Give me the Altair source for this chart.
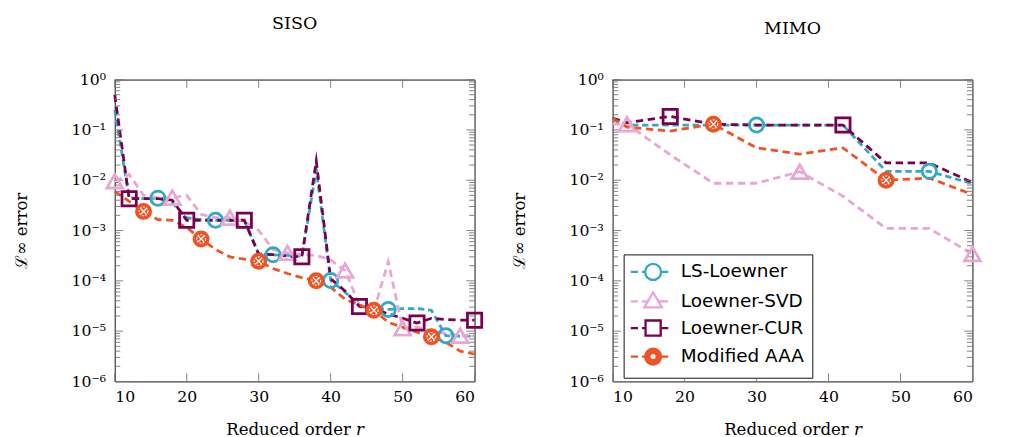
import altair as alt
import pandas as pd

SERIES = ["LS-Loewner", "Loewner-SVD", "Loewner-CUR", "Modified AAA"]
COLORS = ["#31A8C8", "#E8A7D3", "#79004F", "#F05323"]
DASHES = [[7, 4], [8, 5], [8, 5], [8, 5]]

# ---- SISO panel data ----
r_siso = [10, 12, 14, 16, 18, 20, 22, 24, 26, 28, 30, 32, 34, 36, 38, 40, 42, 44, 46, 48, 50, 52, 54, 56, 58, 60]
siso_ls = [0.25, 4.5e-3, 4.3e-3, 4.4e-3, 3.5e-3, 1.8e-3, 1.65e-3, 1.6e-3, 1.6e-3, 1.6e-3, 3.4e-4, 3.3e-4, 3.2e-4,
           3.1e-4, 1.6e-2, 1.02e-4, 6e-5, 3.2e-5, 2.8e-5, 2.7e-5, 2.8e-5, 2.8e-5, 2.6e-5, 8.1e-6, 8e-6, 8e-6]
siso_svd = [9.6e-3, 1.3e-2, 5e-3, 4.5e-3, 4.5e-3, 5e-3, 2.1e-3, 1.8e-3, 1.8e-3, 1.5e-3, 1e-3, 4.2e-4, 3.6e-4,
            3.3e-4, 3.2e-4, 2.6e-4, 1.6e-4, 3.3e-5, 2.5e-5, 2.4e-4, 1.14e-5, 1.2e-5, 1e-5, 9e-6, 8.1e-6, 8.5e-6]
siso_cur = [0.5, 4.3e-3, 4.3e-3, 4.3e-3, 4.0e-3, 1.6e-3, 1.6e-3, 1.6e-3, 1.6e-3, 1.6e-3, 3.4e-4, 3.3e-4, 3.1e-4,
            3.0e-4, 2.4e-2, 1.1e-4, 6.3e-5, 3.1e-5, 2.8e-5, 2.2e-5, 1.8e-5, 1.45e-5, 1.8e-5, 1.7e-5, 1.65e-5, 1.65e-5]
siso_aaa = [6e-3, 3.8e-3, 2.4e-3, 1.65e-3, 1.6e-3, 1.15e-3, 6.8e-4, 4.2e-4, 3e-4, 2.7e-4, 2.46e-4, 1.75e-4, 1.4e-4,
            1.15e-4, 1.0e-4, 7.5e-5, 4.3e-5, 3.3e-5, 2.6e-5, 1.5e-5, 1.2e-5, 9.5e-6, 7.7e-6, 6e-6, 4e-6, 3.5e-6]
siso_marks = {
    "LS-Loewner": [16, 24, 32, 40, 48, 56],
    "Loewner-SVD": [10, 18, 26, 34, 42, 50, 58],
    "Loewner-CUR": [12, 20, 28, 36, 44, 52, 60],
    "Modified AAA": [14, 22, 30, 38, 46, 54],
}

# ---- MIMO panel data ----
r_mimo = [10, 12, 18, 24, 30, 36, 42, 48, 54, 60]
mimo_ls = [0.16, 0.125, 0.125, 0.125, 0.125, 0.125, 0.125, 0.015, 0.015, 0.0085]
mimo_svd = [0.13, 0.13, 0.032, 0.0087, 0.0087, 0.0148, 0.0048, 0.0011, 0.0011, 0.00034]
mimo_cur = [0.17, 0.14, 0.185, 0.13, 0.125, 0.125, 0.125, 0.022, 0.022, 0.009]
mimo_aaa = [0.17, 0.113, 0.095, 0.13, 0.044, 0.033, 0.044, 0.010, 0.011, 0.0052]
mimo_marks = {
    "LS-Loewner": [30, 54],
    "Loewner-SVD": [12, 36, 60],
    "Loewner-CUR": [18, 42],
    "Modified AAA": [24, 48],
}

x_ticks = [10, 20, 30, 40, 50, 60]
y_major = [1e-6, 1e-5, 1e-4, 1e-3, 1e-2, 1e-1, 1]
y_minor = [k * 10.0 ** e for e in range(-6, 0) for k in range(2, 10)]
y_labels = ["10⁻⁶", "10⁻⁵", "10⁻⁴", "10⁻³", "10⁻²", "10⁻¹", "10⁰"]

SERIF = "DejaVu Serif"
SANS = "DejaVu Sans"
W, H = 391, 328
TICK_MAJ, TICK_MIN = 9, 6
TICK_COLOR = "#7a7a7a"


def make_df(r, vals, marks):
    rows = []
    for s, v in zip(SERIES, vals):
        for ri, vi in zip(r, v):
            rows.append({"series": s, "r": ri, "err": vi, "marker": ri in marks[s]})
    return pd.DataFrame(rows)


df_siso = make_df(r_siso, [siso_ls, siso_svd, siso_cur, siso_aaa], siso_marks)
df_mimo = make_df(r_mimo, [mimo_ls, mimo_svd, mimo_cur, mimo_aaa], mimo_marks)
df_xt = pd.DataFrame({"v": x_ticks})
df_ymaj = pd.DataFrame({"v": y_major})
df_ymin = pd.DataFrame({"v": y_minor})

label_expr = "[" + ",".join("'%s'" % t for t in y_labels) + "][round(log(datum.value)/LN10)+6]"

common = dict(grid=False, domain=False, ticks=False,
              labelFont=SERIF, labelFontSize=17, labelColor="black",
              titleFont=SERIF, titleFontSize=18, titleFontWeight="normal", titleColor="black")

x_axis = alt.Axis(orient="bottom", values=x_ticks, labelPadding=9, format="d",
                  title="Reduced order 𝑟", titleY=58, titleBaseline="alphabetic", **common)
y_axis = alt.Axis(orient="left", values=y_major, labelPadding=10, labelExpr=label_expr,
                  title="ℒ∞ error", titleX=-100.5, titleBaseline="middle", **common)

# legend symbol paths (dash + marker), unit = marker radius
circ = "M1,0 A1,1 0 1,1 -1,0 A1,1 0 1,1 1,0 Z"
LEG_PATHS = [
    "M-2.8,0 H-1.9 M-1.4,0 H-1 M1,0 H1.9 " + circ,
    "M-2.8,0 H-1.9 M-1.4,0 H-0.67 M0.67,0 H1.9 M0,-1.15 L1.1,0.75 L-1.1,0.75 Z",
    "M-2.8,0 H-1.9 M-1.4,0 H-0.95 M0.95,0 H1.9 M-0.95,-0.95 H0.95 V0.95 H-0.95 Z",
    "M-2.8,0 H-1.9 M-1.4,0 H-1 M1,0 H1.9 " + circ
    + " M0.72,0 A0.72,0.72 0 1,1 -0.72,0 A0.72,0.72 0 1,1 0.72,0 Z"
    + " M0.46,0 A0.46,0.46 0 1,1 -0.46,0 A0.46,0.46 0 1,1 0.46,0 Z",
]

LEG = alt.Legend(title=None, orient="none", legendX=12, legendY=190, direction="vertical",
                 fillColor="white", strokeColor="black", padding=9, cornerRadius=0, zindex=1,
                 labelFont=SANS, labelFontSize=20, labelColor="black", symbolOpacity=1,
                 symbolSize=300, symbolStrokeWidth=2.5, symbolOffset=13, labelOffset=20, rowPadding=3)


def panel(df, title, with_legend):
    xs = alt.Scale(domain=[10, 60], nice=False, zero=False)
    ys = alt.Scale(type="log", domain=[1e-6, 1], nice=False)
    base = alt.Chart(df)

    line_layers = []
    for i, s in enumerate(SERIES):
        enc_x = alt.X("r:Q", scale=xs, axis=x_axis) if i == 0 else alt.X("r:Q", scale=xs)
        enc_y = alt.Y("err:Q", scale=ys, axis=y_axis) if i == 0 else alt.Y("err:Q", scale=ys)
        line_layers.append(
            base.transform_filter("datum.series === '%s'" % s).mark_line(
                color=COLORS[i], strokeDash=DASHES[i], strokeWidth=3, strokeJoin="miter",
                strokeMiterLimit=20, strokeCap="butt").encode(x=enc_x, y=enc_y))

    def pts(series, **kw):
        return base.transform_filter("datum.series === '%s' && datum.marker" % series).mark_point(**kw).encode(
            x=alt.X("r:Q", scale=xs), y=alt.Y("err:Q", scale=ys))

    m_ls = pts("LS-Loewner", shape="circle", filled=False, stroke=COLORS[0], strokeWidth=3, size=240, opacity=1)
    m_svd = pts("Loewner-SVD", shape="triangle-up", filled=False, stroke=COLORS[1], strokeWidth=3, size=300, opacity=1)
    m_cur = pts("Loewner-CUR", shape="square", filled=False, stroke=COLORS[2], strokeWidth=3, size=240, opacity=1)
    m_aaa = pts("Modified AAA", shape="circle", filled=True, fill=COLORS[3], stroke=COLORS[3], strokeWidth=2,
                size=270, opacity=1)
    m_aaa_o = pts("Modified AAA", shape="circle", filled=False, stroke="white", strokeWidth=1.3, size=90,
                  strokeDash=[2, 1.5], opacity=1)
    m_aaa_x = pts("Modified AAA", shape="M-1,-1L1,1M-1,1L1,-1", filled=False, stroke="white", strokeWidth=1.3,
                  size=40, opacity=1)

    # inward tick marks on all four sides (positions through the scales)
    def yticks(d, x0, x1):
        return alt.Chart(d).mark_rule(color=TICK_COLOR, strokeWidth=1).encode(
            y=alt.Y("v:Q", scale=ys), x=alt.value(x0), x2=alt.value(x1))

    def xticks(y0, y1):
        return alt.Chart(df_xt).mark_rule(color=TICK_COLOR, strokeWidth=1).encode(
            x=alt.X("v:Q", scale=xs), y=alt.value(y0), y2=alt.value(y1))

    ticks = [yticks(df_ymaj, 0, TICK_MAJ), yticks(df_ymin, 0, TICK_MIN),
             yticks(df_ymaj, W - TICK_MAJ, W), yticks(df_ymin, W - TICK_MIN, W),
             xticks(0, TICK_MAJ), xticks(H - TICK_MAJ, H)]

    layers = line_layers + ticks + [m_ls, m_svd, m_cur, m_aaa, m_aaa_o, m_aaa_x]
    if with_legend:
        legend_layer = base.transform_filter("datum.marker").mark_point(
            filled=False, strokeWidth=2.5, opacity=0).encode(
            x=alt.X("r:Q", scale=xs), y=alt.Y("err:Q", scale=ys),
            color=alt.Color("series:N", scale=alt.Scale(domain=SERIES, range=COLORS), legend=LEG),
            shape=alt.Shape("series:N", scale=alt.Scale(domain=SERIES, range=LEG_PATHS), legend=LEG),
        )
        layers.append(legend_layer)

    return alt.layer(*layers).properties(
        width=W, height=H,
        title=alt.TitleParams(title, font=SERIF, fontSize=19, fontWeight="normal", color="black",
                              baseline="alphabetic", offset=22, frame="group"),
    )


chart = alt.hconcat(panel(df_siso, "SISO", False), panel(df_mimo, "MIMO", True), spacing=9).resolve_scale(
    color="independent", shape="independent"
).properties(
    padding={"left": 6, "right": 0, "top": -13, "bottom": 8}, background="white"
).configure_view(stroke="black", strokeWidth=1)

chart.save("out.html", embed_options={"renderer": "svg", "actions": False})
